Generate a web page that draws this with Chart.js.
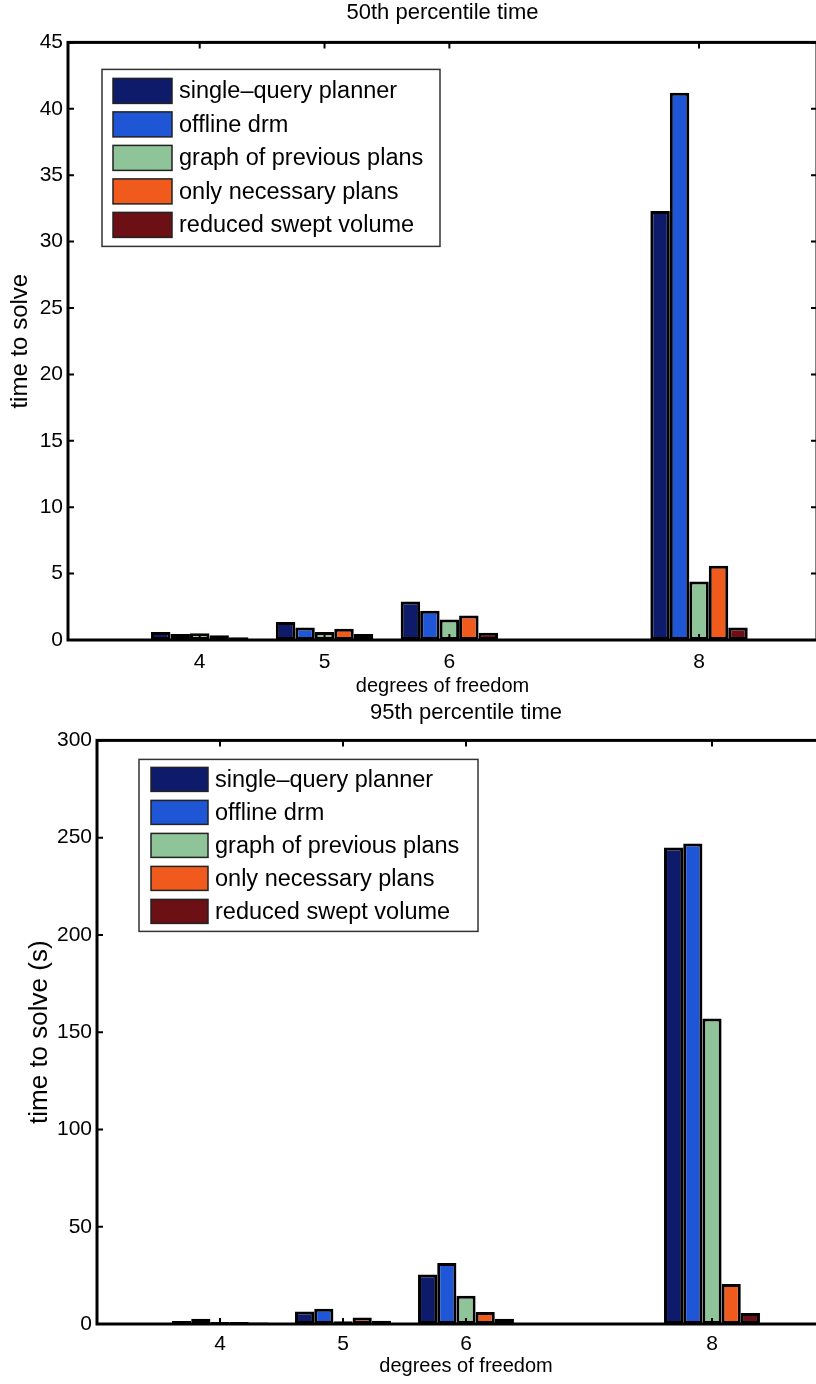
<!DOCTYPE html>
<html>
<head>
<meta charset="utf-8">
<script src="https://cdn.jsdelivr.net/npm/chart.js@4.4.1/dist/chart.umd.min.js"></script>
<style>
  html, body { margin: 0; padding: 0; background: #fff; width: 816px; height: 1384px; overflow: hidden; }
  canvas { position: absolute; left: 0; }
  #top { top: 0; }
  #bottom { top: 700px; }
</style>
</head>
<body>
<canvas id="top" width="820" height="700"></canvas>
<canvas id="bottom" width="840" height="684"></canvas>
<script>
// degrees of freedom (x positions of the bar groups)
const dof = [4, 5, 6, 8];

const seriesNames = [
    "single\u2013query planner",
    "offline drm",
    "graph of previous plans",
    "only necessary plans",
    "reduced swept volume",
];
const seriesColors = ["#0e1b6a", "#1e56d6", "#8ec497", "#f05b1d", "#6c1016"];

// 50th percentile time to solve
const p50_single = [0.6, 1.35, 2.9, 32.3];
const p50_drm = [0.45, 0.95, 2.2, 41.2];
const p50_graph = [0.5, 0.6, 1.55, 4.4];
const p50_necessary = [0.35, 0.85, 1.85, 5.6];
const p50_reduced = [0.2, 0.45, 0.55, 0.95];

// 95th percentile time to solve (s)
const p95_single = [1.5, 6.4, 25.5, 245];
const p95_drm = [2.7, 7.9, 31.3, 247];
const p95_graph = [1.0, 1.4, 14.5, 157];
const p95_necessary = [1.0, 3.4, 6.2, 20.5];
const p95_reduced = [0.8, 1.7, 2.7, 5.6];

const FONT = '"Liberation Sans", Arial, Helvetica, sans-serif';
Chart.defaults.font.family = FONT;
Chart.defaults.color = "#000";

// axes box with matlab style inward ticks
const framePlugin = {
    id: "frame",
    afterDraw(chart) {
        const { ctx, chartArea: a, scales } = chart;
        const tl = 6;
        ctx.save();
        ctx.strokeStyle = "#000";
        ctx.lineWidth = 2;
        ctx.beginPath();
        scales.x.ticks.forEach((t) => {
            const px = scales.x.getPixelForValue(t.value);
            ctx.moveTo(px, a.bottom);
            ctx.lineTo(px, a.bottom - tl);
            ctx.moveTo(px, a.top);
            ctx.lineTo(px, a.top + tl);
        });
        scales.y.ticks.forEach((t) => {
            const py = scales.y.getPixelForValue(t.value);
            ctx.moveTo(a.left, py);
            ctx.lineTo(a.left + tl, py);
            ctx.moveTo(a.right, py);
            ctx.lineTo(a.right - tl, py);
        });
        ctx.stroke();
        ctx.lineWidth = 3;
        ctx.strokeRect(a.left, a.top, a.right - a.left, a.bottom - a.top);
        ctx.restore();
    },
};

// legend box drawn inside the plot area
const boxLegend = {
    id: "boxLegend",
    afterDraw(chart, args, o) {
        const { ctx, chartArea: a } = chart;
        const x0 = a.left + o.dx;
        const y0 = a.top + o.dy;
        ctx.save();
        ctx.fillStyle = "#fff";
        ctx.fillRect(x0, y0, o.w, o.h);
        ctx.strokeStyle = "#333";
        ctx.lineWidth = 1.5;
        ctx.strokeRect(x0, y0, o.w, o.h);
        ctx.font = o.fontSize + "px " + FONT;
        ctx.textBaseline = "middle";
        ctx.textAlign = "left";
        chart.data.datasets.forEach((ds, i) => {
            const ry = y0 + o.firstRow + i * o.pitch;
            ctx.fillStyle = ds.backgroundColor;
            ctx.fillRect(x0 + o.swX, ry, o.swW, o.swH);
            ctx.strokeStyle = "#222";
            ctx.lineWidth = 1.5;
            ctx.strokeRect(x0 + o.swX, ry, o.swW, o.swH);
            ctx.fillStyle = "#000";
            ctx.fillText(ds.label, x0 + o.textX, ry + o.swH / 2 + 1);
        });
        ctx.restore();
    },
};

const make_chart = (canvas_id, p) => {
    const datasets = p.series.map((vals, i) => ({
        label: seriesNames[i],
        data: dof.map((d, j) => ({ x: d, y: vals[j] })),
        backgroundColor: seriesColors[i],
        borderColor: "#000",
        borderWidth: 3,
        borderSkipped: false,
        categoryPercentage: 0.78,
        barPercentage: 1.0,
    }));

    const ctx = document.getElementById(canvas_id).getContext("2d");
    return new Chart(ctx, {
        type: "bar",
        data: { datasets },
        plugins: [framePlugin, boxLegend],
        options: {
            responsive: false,
            animation: false,
            devicePixelRatio: 1,
            events: [],
            layout: { padding: { left: p.padLeft, right: p.padRight, top: 0, bottom: 0 } },
            plugins: {
                legend: { display: false },
                tooltip: { enabled: false },
                title: {
                    display: true,
                    text: p.title,
                    fullSize: false,
                    color: "#000",
                    font: { size: 22, weight: "normal" },
                    padding: { top: 0, bottom: p.titleGap },
                },
                boxLegend: p.legend,
            },
            scales: {
                x: {
                    type: "linear",
                    min: p.xMin,
                    max: p.xMin + 6,
                    offset: false,
                    afterBuildTicks: (s) => {
                        s.ticks = dof.map((v) => ({ value: v }));
                    },
                    afterFit: (s) => {
                        s.height = p.xHeight;
                    },
                    grid: { display: false, drawTicks: false },
                    border: { display: false },
                    ticks: { font: { size: 21 }, color: "#000", padding: p.xTickPad, maxRotation: 0 },
                    title: {
                        display: true,
                        text: "degrees of freedom",
                        color: "#000",
                        font: { size: 20 },
                        padding: { top: 0, bottom: p.xTitleBottom },
                    },
                },
                y: {
                    min: 0,
                    max: p.yMax,
                    afterFit: (s) => {
                        s.width = p.yWidth;
                    },
                    grid: { display: false, drawTicks: false },
                    border: { display: false },
                    ticks: { stepSize: p.yStep, font: { size: 21 }, color: "#000", padding: 5 },
                    title: {
                        display: true,
                        text: p.yTitle,
                        color: "#000",
                        font: { size: p.yTitleSize },
                        padding: 0,
                    },
                },
            },
        },
    });
};

make_chart("top", {
    title: "50th percentile time",
    yTitle: "time to solve",
    yTitleSize: 24,
    series: [p50_single, p50_drm, p50_graph, p50_necessary, p50_reduced],
    yMax: 45,
    yStep: 5,
    xMin: 2.945,
    padLeft: 6,
    padRight: 3,
    yWidth: 62,
    xHeight: 60,
    xTickPad: 10,
    titleGap: 16,
    xTitleBottom: 2,
    legend: { dx: 34, dy: 27, w: 338, h: 177, swX: 11, swW: 59, swH: 25, firstRow: 9, pitch: 33.5, textX: 77, fontSize: 23.5 },
});

make_chart("bottom", {
    title: "95th percentile time",
    yTitle: "time to solve (s)",
    yTitleSize: 26,
    series: [p95_single, p95_drm, p95_graph, p95_necessary, p95_reduced],
    yMax: 300,
    yStep: 50,
    xMin: 3,
    padLeft: 24,
    padRight: 5,
    yWidth: 73,
    xHeight: 60,
    xTickPad: 8,
    titleGap: 14,
    xTitleBottom: 6,
    legend: { dx: 42, dy: 19, w: 339, h: 172, swX: 12, swW: 57, swH: 24, firstRow: 8, pitch: 33, textX: 76, fontSize: 23.5 },
});
</script>
</body>
</html>
